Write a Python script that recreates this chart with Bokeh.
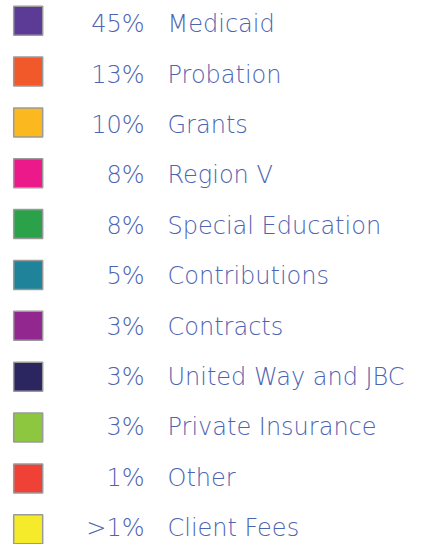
from bokeh.plotting import figure
from bokeh.models import Range1d, ColumnDataSource
from bokeh.core.properties import value
from bokeh.embed import file_html
from bokeh.resources import INLINE

categories = ["Medicaid", "Probation", "Grants", "Region V", "Special Education",
              "Contributions", "Contracts", "United Way and JBC", "Private Insurance",
              "Other", "Client Fees"]
percent_labels = ["45%", "13%", "10%", "8%", "8%", "5%", "3%", "3%", "3%", "1%", ">1%"]
colors = ["#5c3b97", "#f1592b", "#fbb81f", "#ec198b", "#2ba24a", "#1f8399",
          "#92278f", "#2b2560", "#8dc63f", "#ef4136", "#f6eb2a"]

rows = list(range(len(categories)))
src = ColumnDataSource(dict(row=rows, cat=categories, pct=percent_labels, color=colors))

W, H = 425, 544
p = figure(width=W, height=H, output_backend="svg", toolbar_location=None,
           x_range=Range1d(0, W), y_range=Range1d(10.30, -0.397),
           min_border=0, outline_line_color=None)
p.extra_y_ranges = {"text": Range1d(10.323, -0.470)}
p.axis.visible = False
p.grid.visible = False
p.background_fill_color = "white"
p.border_fill_color = "white"

p.rect(x=27.7, y="row", width=29, height=29, width_units="screen", height_units="screen",
       fill_color="color", line_color="#9a9a9a", line_width=1.5, source=src)

font = value("DejaVu Sans Light")
txt_color = "#4d64b1"
p.text(x=144, y="row", text="pct", source=src, text_align="right", y_range_name="text",
       text_baseline="alphabetic", text_font=font,
       text_font_size="24px", text_color=txt_color)
p.text(x=167, y="row", text="cat", source=src, text_align="left", y_range_name="text",
       text_baseline="alphabetic", text_font=font,
       text_font_size="24px", text_color=txt_color)

open("out.html", "w").write(file_html(p, INLINE))
